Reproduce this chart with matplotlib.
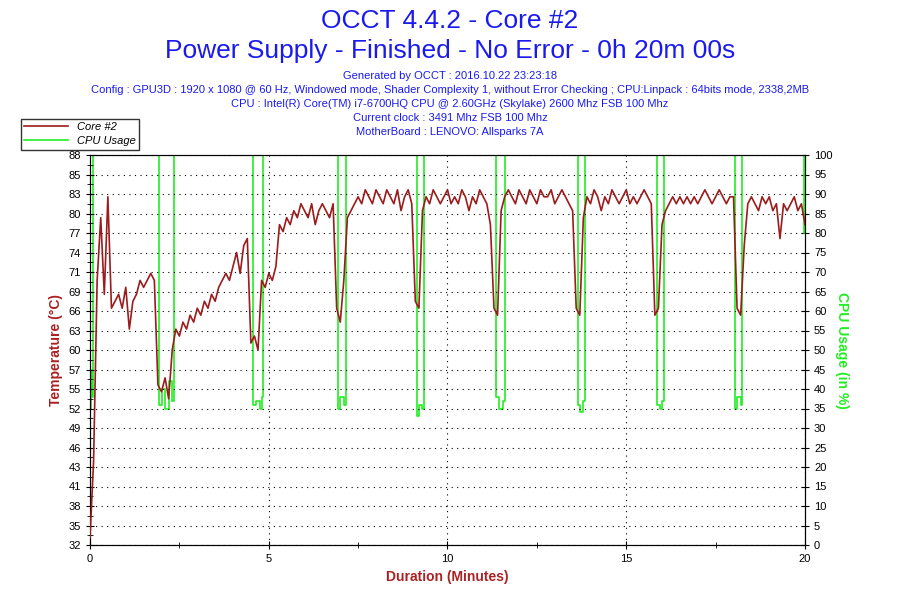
import matplotlib
matplotlib.use("Agg")
import matplotlib.pyplot as plt
import numpy as np

plt.rcParams["font.family"] = ["Liberation Sans", "DejaVu Sans"]

# Temperature of Core #2, one value every 0.1 min
temp = [33, 44, 70, 79, 68, 82, 66, 67, 68, 66,
        69, 63, 67, 68, 70, 69, 70, 71, 70, 55,
        54, 56, 53, 60, 63, 62, 64, 63, 65, 64,
        66, 65, 67, 66, 68, 67, 69, 70, 71, 70,
        72, 74, 71, 75, 76, 61, 62, 60, 70, 69,
        71, 70, 72, 78, 77, 79, 78, 80, 79, 81,
        80, 79, 81, 78, 80, 81, 80, 79, 81, 66,
        64, 70, 79, 80, 81, 82, 81, 83, 82, 81,
        83, 82, 81, 83, 82, 81, 83, 80, 82, 83,
        81, 67, 66, 80, 82, 81, 83, 82, 81, 82,
        83, 81, 82, 81, 83, 82, 80, 82, 81, 83,
        82, 81, 78, 66, 65, 80, 82, 83, 82, 81,
        83, 82, 81, 83, 82, 81, 83, 82, 82, 83,
        81, 82, 83, 82, 81, 80, 66, 65, 79, 82,
        81, 83, 82, 80, 82, 81, 83, 82, 81, 82,
        83, 81, 82, 81, 82, 83, 82, 81, 65, 66,
        78, 80, 81, 82, 81, 82, 81, 82, 81, 82,
        81, 82, 83, 82, 81, 82, 83, 82, 81, 82,
        82, 66, 65, 75, 81, 82, 81, 80, 82, 81,
        82, 80, 81, 76, 81, 80, 81, 82, 80, 81,
        78]
temp_t = [i * 0.1 for i in range(len(temp))]

# CPU usage (%)
cpu_t = [0, 0.03, 0.06, 0.08,
         1.9, 1.92, 2.0, 2.1, 2.2, 2.3, 2.35,
         4.5, 4.55, 4.65, 4.75, 4.8, 4.85,
         6.9, 6.95, 7.0, 7.1, 7.15,
         9.1, 9.15, 9.2, 9.3, 9.35,
         11.3, 11.35, 11.45, 11.55, 11.6,
         13.6, 13.65, 13.7, 13.8, 13.85,
         15.8, 15.85, 15.95, 16.0, 16.05,
         18.0, 18.05, 18.1, 18.2, 18.25,
         19.96, 19.98, 20.0]
cpu = [35, 45, 38, 100,
       100, 36, 40, 35, 42, 37, 100,
       100, 36, 37, 35, 38, 100,
       100, 35, 38, 36, 100,
       100, 33, 36, 35, 100,
       100, 38, 35, 37, 100,
       100, 36, 34, 37, 100,
       100, 36, 35, 37, 100,
       100, 35, 38, 36, 100,
       100, 80, 85]

left_ticks = [32, 35, 38, 41, 43, 46, 49, 52, 55, 57, 60, 63, 66, 69, 71, 74, 77, 80, 83, 85, 88]

fig = plt.figure(figsize=(9, 6), dpi=100)
ax = fig.add_axes([90 / 900, 55 / 600, 715 / 900, 390 / 600])
ax2 = ax.twinx()

ax.plot(temp_t, temp, color="#9b1c1c", lw=1.2, label="Core #2", zorder=3)
ax2.plot(cpu_t, cpu, color="#22ee22", lw=1.2, label="CPU Usage", drawstyle="steps-post")
ax.set_zorder(ax2.get_zorder() + 1)
ax.patch.set_visible(False)
ax2.set_facecolor("#fdf5e8")

ax.set_xlim(0, 20)
ax.set_ylim(32, 88)
ax2.set_ylim(0, 100)
ax.set_yticks(np.linspace(32, 88, 21))
ax.set_yticklabels([str(v) for v in left_ticks])
ax.set_yticks(np.linspace(32, 88, 41), minor=True)
ax2.set_yticks(range(0, 101, 5))
ax.set_xticks([0, 5, 10, 15, 20])
ax.set_xticks(np.arange(0, 20.01, 2.5), minor=True)
for a in (ax, ax2):
    a.tick_params(labelsize=8, direction="inout", length=6)
    a.tick_params(which="minor", direction="inout", length=4)
ax.grid(True, color="black", linestyle=(0, (1, 4)), lw=0.8)

ax.set_xlabel("Duration (Minutes)", color="#aa2222", fontweight="bold", fontsize=10)
ax.set_ylabel("Temperature (°C)", color="#aa2222", fontweight="bold", fontsize=10)
ax2.set_ylabel("CPU Usage (in %)", color="#22ee22", fontweight="bold", fontsize=10, rotation=270, labelpad=12)

fig.text(0.5, 1 - 21 / 600, "OCCT 4.4.2 - Core #2", color="#1a1aee", fontsize=19, ha="center", va="center")
fig.text(0.5, 1 - 51 / 600, "Power Supply - Finished - No Error - 0h 20m 00s", color="#1a1aee", fontsize=19,
         ha="center", va="center")
info = ["Generated by OCCT : 2016.10.22 23:23:18",
        "Config : GPU3D : 1920 x 1080 @ 60 Hz, Windowed mode, Shader Complexity 1, without Error Checking ; CPU:Linpack : 64bits mode, 2338,2MB",
        "CPU : Intel(R) Core(TM) i7-6700HQ CPU @ 2.60GHz (Skylake) 2600 Mhz FSB 100 Mhz",
        "Current clock : 3491 Mhz FSB 100 Mhz",
        "MotherBoard : LENOVO: Allsparks 7A"]
for i, line in enumerate(info):
    fig.text(0.5, 1 - (76 + i * 14) / 600, line, color="#1a1aee", fontsize=8, ha="center", va="center")

h1, l1 = ax.get_legend_handles_labels()
h2, l2 = ax2.get_legend_handles_labels()
leg = fig.legend(h1 + h2, l1 + l2, loc="upper left", bbox_to_anchor=(15 / 900, 1 - 113 / 600),
                 prop={"size": 8, "style": "italic"}, fancybox=False, edgecolor="black",
                 borderpad=0.3, labelspacing=0.4, handlelength=4)

fig.savefig("out.png", dpi=100, facecolor="white")
